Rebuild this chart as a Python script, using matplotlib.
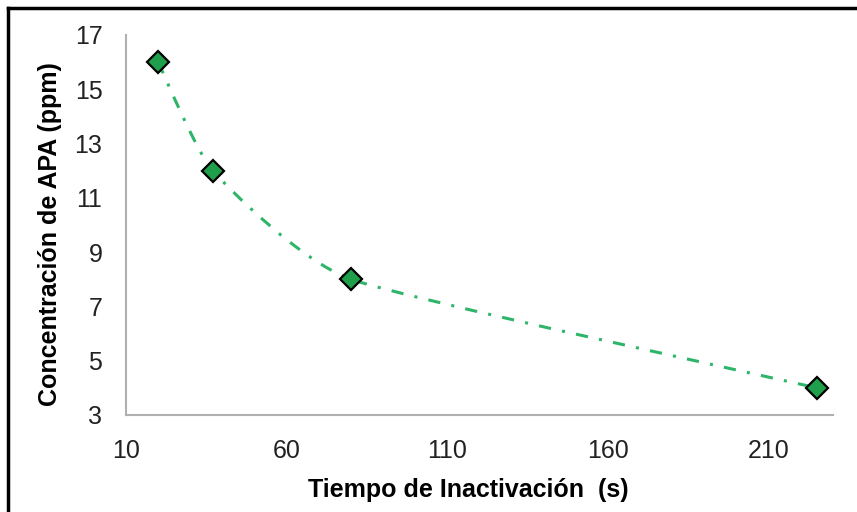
import numpy as np
import matplotlib
matplotlib.use('Agg')
import matplotlib.pyplot as plt
from matplotlib.path import Path
from matplotlib.patches import PathPatch
from matplotlib.lines import Line2D

plt.rcParams['font.family'] = ['Liberation Sans', 'DejaVu Sans']

# Datos
tiempo = [20, 37, 80, 225]          # s
concentracion = [16, 12, 8, 4]      # ppm
xticks = [10, 60, 110, 160, 210]
yticks = [3, 5, 7, 9, 11, 13, 15, 17]

W, H = 857, 512
fig = plt.figure(figsize=(W / 100, H / 100), dpi=100)
ax = fig.add_axes([126 / W, 1 - 415 / H, (833 - 126) / W, (415 - 35) / H])

# Linea suavizada (Bezier tipo Excel) entre los puntos
pts = np.column_stack([tiempo, concentracion]).astype(float)
n = len(pts)
verts = [pts[0]]
codes = [Path.MOVETO]
for i in range(n - 1):
    p0 = pts[max(i - 1, 0)]
    p1 = pts[i]
    p2 = pts[i + 1]
    p3 = pts[min(i + 2, n - 1)]
    c1 = p1 + (p2 - p0) / 12
    c2 = p2 - (p3 - p1) / 12
    verts += [c1, c2, p2]
    codes += [Path.CURVE4] * 3
linea = PathPatch(Path(verts, codes), fill=False, edgecolor='#2fb56a',
                  linewidth=2.2, linestyle=(0, (4, 3.7, 1, 3.7)), zorder=2)
ax.add_patch(linea)

ax.plot(tiempo, concentracion, linestyle='none', marker='D', markersize=11,
        markerfacecolor='#1f9e4b', markeredgecolor='black',
        markeredgewidth=1.6, zorder=3)

ax.set_xlim(10, 230)
ax.set_ylim(3, 17)
ax.set_xticks(xticks)
ax.set_yticks(yticks)
ax.tick_params(axis='both', length=0, labelsize=18, colors='#222222', pad=17)
for s in ['top', 'right']:
    ax.spines[s].set_visible(False)
for s in ['left', 'bottom']:
    ax.spines[s].set_color('#b0b0b0')
    ax.spines[s].set_linewidth(1.5)

fig.text(468 / W, 1 - 490 / H, 'Tiempo de Inactivación  (s)', ha='center',
         va='center', fontsize=18, fontweight='bold')
fig.text(50 / W, 1 - 234 / H, 'Concentración de APA (ppm)', ha='center',
         va='center', rotation=90, fontsize=18, fontweight='bold')

# Marco del grafico (solo izquierda y arriba visibles)
fig.add_artist(Line2D([8 / W, 8 / W], [0, 1 - 8 / H], color='black',
                      linewidth=2.5, transform=fig.transFigure))
fig.add_artist(Line2D([8 / W, 1], [1 - 8 / H, 1 - 8 / H], color='black',
                      linewidth=2.5, transform=fig.transFigure))

fig.savefig('out.png', dpi=100)
